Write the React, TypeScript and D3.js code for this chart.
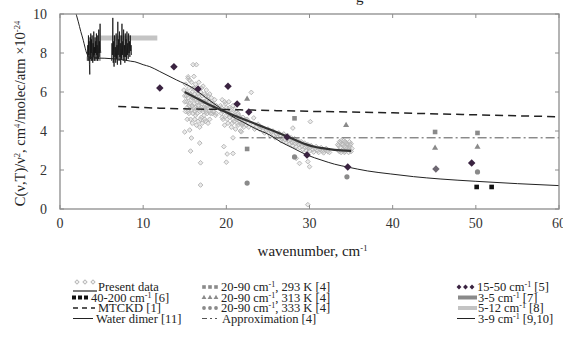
import React, { useEffect, useRef } from 'react';
import * as d3 from 'd3';

// axis ticks
const xTicks = [0, 10, 20, 30, 40, 50, 60];
const yTicks = [0, 2, 4, 6, 8, 10];

// Present data (grey open diamonds)
const presentData = [
  [14.9, 6.1], [15.0, 5.8], [15.1, 6.4], [15.2, 5.5], [15.2, 6.0], [15.3, 5.2], [15.4, 6.7], [15.4, 5.7], [15.5, 4.9], [15.5, 6.2],
  [15.6, 5.4], [15.7, 4.6], [15.7, 5.9], [15.8, 6.5], [15.8, 5.1], [15.9, 4.4], [15.9, 5.7], [16.0, 6.2], [16.0, 4.9], [16.1, 5.4],
  [16.1, 6.8], [16.2, 4.6], [16.2, 5.9], [16.3, 5.2], [16.3, 6.4], [16.4, 4.3], [16.4, 5.6], [16.5, 4.9], [16.5, 6.1], [16.6, 5.3],
  [16.6, 4.5], [16.7, 5.8], [16.7, 6.5], [16.8, 5.0], [16.8, 4.2], [16.9, 5.5], [16.9, 6.0], [17.0, 4.7], [17.0, 5.2], [17.1, 5.8],
  [17.1, 4.4], [17.2, 5.0], [17.2, 6.3], [17.3, 5.5], [17.3, 4.8], [17.4, 5.9], [17.5, 5.2], [17.5, 4.5], [17.6, 5.6], [17.6, 6.1],
  [17.7, 4.9], [17.7, 5.3], [17.8, 5.8], [17.9, 5.0], [18.0, 5.5], [18.0, 4.6], [18.1, 5.2], [18.2, 5.7], [18.3, 4.9], [18.4, 5.4],
  [18.5, 5.0], [18.6, 5.6], [18.7, 4.8], [18.8, 5.3],
  [15.0, 5.5], [15.1, 5.0], [15.3, 4.6], [15.6, 6.6], [15.9, 6.0], [16.0, 5.2], [16.2, 5.0], [16.3, 4.8], [16.5, 5.5], [16.6, 5.9],
  [16.8, 5.6], [16.9, 4.6], [17.0, 6.2], [17.2, 5.5], [17.4, 5.1], [17.5, 5.8], [17.7, 5.6], [17.8, 5.2], [17.9, 5.5], [18.0, 5.9],
  [18.1, 4.9], [18.3, 5.3], [18.4, 5.0], [18.6, 5.2], [18.8, 4.9], [15.2, 5.8], [15.5, 5.3], [15.8, 5.6], [16.1, 5.7], [16.4, 5.1],
  [16.7, 5.3], [17.1, 5.4], [17.3, 5.2], [17.6, 5.0], [15.4, 5.0], [15.9, 5.3], [16.2, 6.2], [16.9, 5.1], [17.4, 4.6],
  [19.3, 5.3], [19.4, 4.9], [19.5, 5.6], [19.6, 4.6], [19.7, 5.1], [19.8, 4.3], [19.9, 5.4], [20.0, 4.8], [20.1, 5.0], [20.2, 4.4],
  [20.3, 5.5], [20.4, 4.7], [20.5, 5.1], [20.6, 4.2], [20.7, 4.9], [20.8, 5.3], [20.9, 4.5], [21.0, 4.8], [21.1, 4.1], [21.2, 5.0],
  [21.3, 4.6], [21.4, 4.3], [21.5, 4.8], [21.6, 4.5], [21.7, 4.0], [21.8, 4.6], [21.9, 4.3], [22.0, 4.7], [22.1, 4.2], [22.2, 4.5],
  [22.4, 4.3], [22.5, 4.6], [22.7, 4.2],
  [19.4, 5.2], [19.6, 5.0], [19.8, 5.5], [20.0, 5.2], [20.2, 4.9], [20.4, 5.2], [20.6, 4.8], [20.8, 4.6], [21.0, 5.1], [21.2, 4.7],
  [21.4, 4.9], [21.6, 4.7], [21.8, 4.4], [22.0, 4.4], [22.3, 4.6], [19.5, 4.7], [20.1, 4.6], [20.7, 4.4], [21.3, 4.4], [22.6, 4.4],
  [23.2, 4.3], [23.6, 4.2], [24.0, 4.1], [24.4, 4.0], [24.8, 4.05], [25.1, 3.9], [25.4, 3.95], [25.7, 3.8], [26.0, 3.85], [26.2, 3.7],
  [26.5, 3.75], [26.7, 3.6], [26.9, 3.7], [27.1, 3.55], [27.3, 3.62], [27.5, 3.5], [27.7, 3.55], [27.9, 3.4], [28.1, 3.48], [28.3, 3.35],
  [28.5, 3.42], [28.7, 3.3], [28.9, 3.36], [29.1, 3.22], [29.3, 3.3], [29.5, 3.15], [29.7, 3.2], [29.9, 3.1], [30.1, 3.15], [30.4, 3.05],
  [30.7, 3.1], [31.0, 3.0], [31.3, 3.05], [31.6, 2.97], [31.9, 3.02], [32.2, 2.95],
  [23.4, 4.1], [23.8, 4.35], [24.2, 4.2], [24.6, 3.9], [25.0, 4.1], [25.3, 3.75], [25.6, 4.0], [25.9, 3.65], [26.3, 3.9], [26.6, 3.5],
  [26.9, 3.85], [27.2, 3.4], [27.4, 3.75], [27.6, 3.35], [27.8, 3.65], [28.0, 3.25], [28.2, 3.6], [28.4, 3.2], [28.6, 3.5], [28.8, 3.15],
  [29.0, 3.45], [29.2, 3.05], [29.4, 3.38], [29.6, 3.0], [29.8, 3.3], [30.0, 2.98], [30.2, 3.25], [30.5, 2.92], [30.8, 3.2], [31.1, 2.9],
  [31.4, 3.15], [31.7, 2.88], [32.0, 3.1], [32.4, 2.9],
  [33.4, 3.3], [33.5, 3.0], [33.6, 3.45], [33.7, 3.15], [33.8, 2.9], [33.9, 3.35], [34.0, 3.05], [34.1, 3.5], [34.2, 3.2], [34.3, 2.95],
  [34.4, 3.4], [34.5, 3.1], [34.6, 3.3], [34.7, 2.9], [34.8, 3.2], [34.9, 3.0], [35.0, 3.35], [35.1, 3.1],
  [33.5, 3.25], [33.6, 2.95], [33.8, 3.5], [34.0, 3.3], [34.2, 2.9], [34.3, 3.45], [34.5, 3.35], [34.7, 3.1], [34.9, 3.3], [35.0, 2.95],
  [33.7, 3.4], [34.1, 3.0], [34.4, 3.15], [34.8, 3.45],
  [15.4, 6.78], [16.0, 7.4], [16.4, 7.4], [15.0, 3.95], [15.6, 4.05], [15.8, 3.64], [15.7, 2.97], [16.8, 3.38], [16.9, 2.37], [16.9, 1.23],
  [17.8, 4.4], [19.7, 3.2], [20.0, 2.4], [20.1, 2.82], [20.8, 3.65], [20.8, 2.85], [21.8, 3.96], [23.0, 5.98], [23.3, 4.67], [24.0, 4.25],
  [28.0, 4.15], [30.1, 4.48], [28.4, 2.6], [28.8, 2.34], [29.8, 2.43], [30.0, 2.17], [29.8, 0.22],
];

// Present data smoothed (thick dark line)
const presentFit = [[15, 6.0], [16.5, 5.67], [18, 5.33], [19.5, 5.05], [20.8, 4.82], [22.5, 4.54], [24, 4.28], [25.7, 4.0], [27.3, 3.72], [28.5, 3.5], [29.7, 3.3], [30.6, 3.19], [31.6, 3.12], [33, 3.03], [35, 2.98]];

// 40-200 cm-1 [6]
const data40200 = [[50.1, 1.13], [51.9, 1.13]];

// MTCKD [1]
const mtckd = [[7, 5.26], [12, 5.17], [20, 5.1], [30, 5.01], [40, 4.93], [50, 4.83], [60, 4.73]];

// Water dimer [11]
const waterDimer = [
  [1.8, 10.2], [2.2, 9.6], [2.5, 9.1], [2.8, 8.65], [3.0, 8.3], [3.2, 8.0], [3.6, 7.78], [4.5, 7.74], [5.4, 7.73], [6.5, 7.7],
  [7.5, 7.66], [8.5, 7.58], [9.0, 7.55], [10.0, 7.4], [10.8, 7.3], [12, 7.05], [14, 6.62], [16, 6.2], [17.5, 5.72], [19.2, 5.2],
  [20.5, 4.8], [22, 4.46], [23.5, 4.12], [25.2, 3.8], [26.5, 3.45], [28, 3.13], [29.7, 2.77], [31.5, 2.5], [33, 2.3], [34.6, 2.15],
  [37, 1.95], [39.7, 1.8], [42.5, 1.66], [45.7, 1.54], [50, 1.42], [55, 1.3], [60, 1.2],
];

// 20-90 cm-1 [4] at three temperatures
const k293 = [[22.5, 3.08], [28.2, 4.65], [45.1, 3.95], [50.2, 3.9]];
const k313 = [[22.5, 5.64], [34.4, 4.3], [45.1, 3.13], [50.2, 3.18]];
const k333 = [[22.5, 1.33], [28.2, 2.67], [34.5, 1.65], [50.2, 1.9]];

// Approximation [4]
const approx = [[21.6, 3.65], [60, 3.65]];

// 15-50 cm-1 [5]
const d1550 = [[12.0, 6.2], [13.7, 7.3], [16.6, 6.15], [20.2, 6.3], [21.3, 5.38], [22.7, 4.97], [27.3, 3.69], [29.7, 2.77], [34.6, 2.15], [49.5, 2.36]];
const d1550grey = [[45.2, 2.05]];

// 3-5 cm-1 [7] and 5-12 cm-1 [8]
const band35 = [[3.2, 7.7], [4.9, 7.7]];
const band512 = [[4.9, 8.77], [11.7, 8.77]];

// 3-9 cm-1 [9,10]
const nine1 = [
  [3.30, 7.8], [3.34, 8.4], [3.38, 7.6], [3.42, 8.9], [3.46, 7.9], [3.50, 8.6], [3.54, 7.4], [3.58, 6.9], [3.62, 8.8], [3.66, 7.7],
  [3.70, 9.0], [3.74, 8.0], [3.78, 8.7], [3.82, 7.6], [3.86, 8.9], [3.90, 8.1], [3.94, 7.5], [3.98, 8.5], [4.02, 7.8], [4.06, 9.1],
  [4.10, 7.9], [4.14, 8.3], [4.18, 7.6], [4.22, 8.8], [4.26, 8.0], [4.30, 8.6], [4.34, 7.7], [4.38, 9.0], [4.42, 7.9], [4.46, 8.4],
  [4.50, 7.6], [4.54, 8.9], [4.58, 8.1], [4.62, 7.7], [4.66, 9.2], [4.70, 8.0], [4.74, 8.6], [4.78, 7.8], [4.82, 9.5], [4.86, 8.2],
  [4.90, 8.0],
];
const nine2 = [
  [6.20, 7.6], [6.25, 8.5], [6.30, 7.9], [6.35, 9.8], [6.40, 7.5], [6.45, 8.6], [6.50, 7.3], [6.55, 8.9], [6.60, 7.8], [6.65, 8.3],
  [6.70, 7.5], [6.75, 9.0], [6.80, 7.7], [6.85, 8.4], [6.90, 7.4], [6.95, 9.6], [7.00, 7.9], [7.05, 8.7], [7.10, 7.6], [7.15, 9.1],
  [7.20, 7.8], [7.25, 8.5], [7.30, 7.4], [7.35, 8.9], [7.40, 7.7], [7.45, 9.5], [7.50, 7.9], [7.55, 8.6], [7.60, 7.6], [7.65, 9.2],
  [7.70, 7.8], [7.75, 8.4], [7.80, 7.5], [7.85, 9.0], [7.90, 7.8], [7.95, 8.7], [8.00, 7.6], [8.05, 9.1], [8.10, 7.9], [8.15, 8.5],
  [8.20, 7.7], [8.25, 9.0], [8.30, 8.0], [8.35, 8.6], [8.40, 7.8], [8.45, 8.9], [8.50, 8.1], [8.55, 8.4], [8.60, 7.9],
];

const W = 563;
const H = 340;
const DARK = '#3a2340';
const GREY = '#8a8a8a';
const FONT = 'Liberation Serif, Times New Roman, serif';

export default function App() {
  const svgRef = useRef(null);

  useEffect(() => {
    const svg = d3.select(svgRef.current);
    svg.selectAll('*').remove();

    const margin = { top: 14, left: 60, right: 4, bottom: 131 };
    const innerW = W - margin.left - margin.right;
    const innerH = H - margin.top - margin.bottom;

    const x = d3.scaleLinear().domain([0, 60]).range([0, innerW]);
    const y = d3.scaleLinear().domain([0, 10]).range([innerH, 0]);

    svg.append('defs').append('clipPath').attr('id', 'plotclip')
      .append('rect').attr('width', innerW).attr('height', innerH);

    const g = svg.append('g').attr('transform', `translate(${margin.left},${margin.top})`);
    const plot = g.append('g').attr('clip-path', 'url(#plotclip)');

    const line = (curve = d3.curveLinear) => d3.line().x(d => x(d[0])).y(d => y(d[1])).curve(curve);
    // square turned 45 degrees
    const rhomb = (s) => d3.symbol().type(d3.symbolSquare).size(s)();
    const at = d => `translate(${x(d[0])},${y(d[1])}) rotate(45)`;

    // cut-off title descender at the very top
    svg.append('text').attr('x', 356).attr('y', 2).style('font-family', FONT).attr('font-size', 15).attr('fill', '#222').text('g');

    // Present data cloud
    plot.selectAll('.pd').data(presentData).enter().append('path')
      .attr('transform', at)
      .attr('d', rhomb(11))
      .attr('fill', '#c6c6c6').attr('fill-opacity', 0.35).attr('stroke', '#b4b4b4').attr('stroke-width', 0.9);

    // bands
    plot.append('path').datum(band512).attr('d', line()).attr('stroke', '#c4c4c4').attr('stroke-width', 5).attr('fill', 'none');
    plot.append('path').datum(band35).attr('d', line()).attr('stroke', '#999').attr('stroke-width', 4).attr('fill', 'none');

    // 3-9 cm-1
    [nine1, nine2].forEach(s => {
      plot.append('path').datum(s).attr('d', line()).attr('stroke', '#111').attr('stroke-width', 0.8).attr('fill', 'none');
    });

    // MTCKD, approximation
    plot.append('path').datum(mtckd).attr('d', line(d3.curveMonotoneX))
      .attr('stroke', '#222').attr('stroke-width', 1.5).attr('stroke-dasharray', '8,5').attr('fill', 'none');
    plot.append('path').datum(approx).attr('d', line())
      .attr('stroke', '#555').attr('stroke-width', 1).attr('stroke-dasharray', '9,3,2,3').attr('fill', 'none');

    // water dimer, present fit
    plot.append('path').datum(waterDimer).attr('d', line(d3.curveMonotoneX))
      .attr('stroke', '#222').attr('stroke-width', 1).attr('fill', 'none');
    plot.append('path').datum(presentFit).attr('d', line(d3.curveMonotoneX))
      .attr('stroke', '#333').attr('stroke-width', 2.2).attr('fill', 'none');

    // markers
    plot.selectAll('.k293').data(k293).enter().append('rect')
      .attr('x', d => x(d[0]) - 2.3).attr('y', d => y(d[1]) - 2.3).attr('width', 4.6).attr('height', 4.6).attr('fill', GREY);
    plot.selectAll('.k313').data(k313).enter().append('path')
      .attr('transform', d => `translate(${x(d[0])},${y(d[1])})`)
      .attr('d', d3.symbol().type(d3.symbolTriangle).size(16)()).attr('fill', GREY);
    plot.selectAll('.k333').data(k333).enter().append('circle')
      .attr('cx', d => x(d[0])).attr('cy', d => y(d[1])).attr('r', 2.6).attr('fill', GREY);
    plot.selectAll('.d40').data(data40200).enter().append('rect')
      .attr('x', d => x(d[0]) - 2.3).attr('y', d => y(d[1]) - 2.3).attr('width', 4.6).attr('height', 4.6).attr('fill', '#111');
    plot.selectAll('.d1550').data(d1550).enter().append('path')
      .attr('transform', at).attr('d', rhomb(28)).attr('fill', DARK);
    plot.selectAll('.d1550g').data(d1550grey).enter().append('path')
      .attr('transform', at).attr('d', rhomb(28)).attr('fill', '#6e6872');

    // frame and inward ticks
    g.append('rect').attr('width', innerW).attr('height', innerH)
      .attr('fill', 'none').attr('stroke', '#8c8c8c').attr('stroke-width', 1.3);
    xTicks.forEach(t => {
      g.append('line').attr('x1', x(t)).attr('x2', x(t)).attr('y1', innerH).attr('y2', innerH - 4).attr('stroke', '#8c8c8c');
      g.append('line').attr('x1', x(t)).attr('x2', x(t)).attr('y1', 0).attr('y2', 4).attr('stroke', '#8c8c8c');
      g.append('text').attr('x', x(t)).attr('y', innerH + 19).attr('text-anchor', 'middle')
        .style('font-family', FONT).attr('font-size', 14).attr('fill', '#333').text(t);
    });
    yTicks.forEach(t => {
      g.append('line').attr('x1', 0).attr('x2', 4).attr('y1', y(t)).attr('y2', y(t)).attr('stroke', '#8c8c8c');
      g.append('line').attr('x1', innerW).attr('x2', innerW - 4).attr('y1', y(t)).attr('y2', y(t)).attr('stroke', '#8c8c8c');
      g.append('text').attr('x', -13).attr('y', y(t) + 5).attr('text-anchor', 'end')
        .style('font-family', FONT).attr('font-size', 14).attr('fill', '#333').text(t);
    });

    // text with superscripts: parts = [[text, isSup]]
    const supText = (sel, parts, sup = 8.5, shift = 5) => {
      let up = false;
      parts.forEach(([s, isSup]) => {
        const ts = sel.append('tspan').text(s);
        if (isSup && !up) { ts.attr('dy', -shift).attr('font-size', sup); up = true; }
        else if (isSup) { ts.attr('font-size', sup); }
        else if (up) { ts.attr('dy', shift); up = false; }
      });
    };

    // axis titles
    const xl = g.append('text').attr('x', innerW / 2 + 3).attr('y', innerH + 47).attr('text-anchor', 'middle')
      .style('font-family', FONT).attr('font-size', 15).attr('fill', '#222');
    supText(xl, [['wavenumber, cm', false], ['-1', true]]);

    const yl = svg.append('text').attr('transform', `translate(25,${margin.top + innerH / 2 + 2}) rotate(-90)`)
      .attr('text-anchor', 'middle').style('font-family', FONT).attr('font-size', 14.5).attr('fill', '#222');
    supText(yl, [['C(ν,T)/ν', false], ['2', true], [',  cm', false], ['4', true], ['/molec/atm ×10', false], ['-24', true]]);

    // legend
    const rows = [287, 297.5, 308, 318.5];
    const leg = svg.append('g').style('font-family', FONT).attr('font-size', 12.5).attr('fill', '#222');
    const legText = (tx, r, parts) => {
      const t = leg.append('text').attr('x', tx).attr('y', rows[r] + 4);
      supText(t, parts, 8, 4);
    };
    const hline = (x1, x2, r, attrs) => {
      const l = leg.append('line').attr('x1', x1).attr('x2', x2).attr('y1', rows[r]).attr('y2', rows[r]);
      Object.entries(attrs).forEach(([k, v]) => l.attr(k, v));
    };
    const three = (x0, step) => [x0, x0 + step, x0 + 2 * step];

    // column 1
    three(77, 8).forEach(cx => leg.append('path').attr('transform', `translate(${cx},${rows[0] - 5}) rotate(45)`)
      .attr('d', rhomb(8)).attr('fill', 'none').attr('stroke', '#bbb'));
    hline(73, 97, 0, { stroke: '#333', 'stroke-width': 1.3, transform: 'translate(0,4)' });
    legText(98, 0, [['Present data', false]]);
    three(74, 6).forEach(cx => leg.append('rect').attr('x', cx - 2).attr('y', rows[1] - 2).attr('width', 4).attr('height', 4).attr('fill', '#111'));
    legText(91, 1, [['40-200 cm', false], ['-1', true], [' [6]', false]]);
    hline(73, 95, 2, { stroke: '#222', 'stroke-width': 1.3, 'stroke-dasharray': '5,4' });
    legText(98, 2, [['MTCKD [1]', false]]);
    hline(73, 93, 3, { stroke: '#222', 'stroke-width': 1 });
    legText(96, 3, [['Water dimer [11]', false]]);

    // column 2
    three(204, 6).forEach(cx => leg.append('rect').attr('x', cx - 1.8).attr('y', rows[0] - 1.8).attr('width', 3.6).attr('height', 3.6).attr('fill', GREY));
    legText(221, 0, [['20-90 cm', false], ['-1', true], [', 293 K [4]', false]]);
    three(204, 6).forEach(cx => leg.append('path').attr('transform', `translate(${cx},${rows[1]})`)
      .attr('d', d3.symbol().type(d3.symbolTriangle).size(10)()).attr('fill', GREY));
    legText(221, 1, [['20-90 cm', false], ['-1', true], [', 313 K [4]', false]]);
    three(204, 6).forEach(cx => leg.append('circle').attr('cx', cx).attr('cy', rows[2]).attr('r', 1.9).attr('fill', GREY));
    legText(221, 2, [['20-90 cm', false], ['-1', true], [', 333 K [4]', false]]);
    hline(202, 217, 3, { stroke: '#555', 'stroke-width': 1, 'stroke-dasharray': '5,3,2,3' });
    legText(222, 3, [['Approximation [4]', false]]);

    // column 3
    three(459, 6.5).forEach(cx => leg.append('path').attr('transform', `translate(${cx},${rows[0]}) rotate(45)`)
      .attr('d', rhomb(12)).attr('fill', DARK));
    legText(477, 0, [['15-50 cm', false], ['-1', true], [' [5]', false]]);
    hline(458, 477, 1, { stroke: '#8a8a8a', 'stroke-width': 4 });
    legText(478, 1, [['3-5 cm', false], ['-1', true], [' [7]', false]]);
    hline(458, 477, 2, { stroke: '#c4c4c4', 'stroke-width': 4 });
    legText(478, 2, [['5-12 cm', false], ['-1', true], [' [8]', false]]);
    hline(457, 475, 3, { stroke: '#222', 'stroke-width': 1 });
    legText(478, 3, [['3-9 cm', false], ['-1', true], [' [9,10]', false]]);
  }, []);

  return (
    <svg ref={svgRef} width={W} height={H} style={{ position: 'absolute', left: 0, top: 0, background: '#fff' }} />
  );
}
